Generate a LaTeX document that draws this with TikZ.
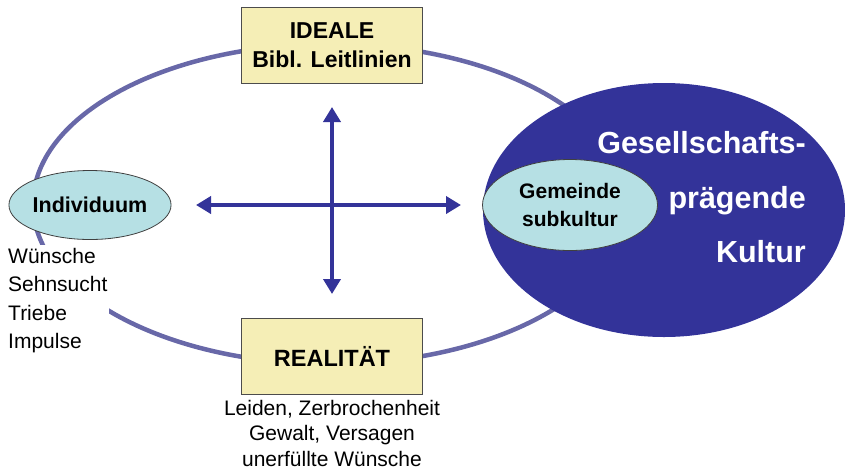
\documentclass[tikz,border=0pt]{standalone}
\usepackage{fontspec}
\setmainfont{Liberation Sans}
\usetikzlibrary{shapes.geometric,arrows.meta}
\definecolor{ringcol}{RGB}{104,104,168}
\definecolor{navy}{RGB}{51,51,153}
\definecolor{boxfill}{RGB}{245,238,182}
\definecolor{cyanfill}{RGB}{182,224,228}
\tikzset{
  ybox/.style={draw=black!70, line width=0.8pt, fill=boxfill, minimum width=181pt, minimum height=76pt, inner sep=0pt, align=center, font=\bfseries\fontsize{23}{29}\selectfont},
  cyell/.style={ellipse, draw=black!75, line width=0.8pt, fill=cyanfill, inner sep=0pt, align=center},
  plain/.style={font=\fontsize{21}{25}\selectfont, inner sep=0pt},
  wtext/.style={text=white, font=\bfseries\fontsize{30.5}{34}\selectfont, inner sep=0pt, anchor=east},
  dbl/.style={navy, line width=4pt, {Triangle[length=15pt,width=17pt]}-{Triangle[length=15pt,width=17pt]}}
}
\begin{document}
\begin{tikzpicture}[x=1pt,y=-1pt]
\useasboundingbox (0,0) rectangle (845,475);
% ring
\draw[ringcol, line width=4.5pt] (330,204) ellipse [x radius=297, y radius=160];
% boxes
\node[ybox] (ideal) at (332,45) {IDEALE\\Bibl. Leitlinien};
\node[ybox, font=\bfseries\fontsize{23.5}{29}\selectfont] (real) at (332,356) {REALITÄT};
\node[plain, align=center, font=\fontsize{21}{25.5}\selectfont, anchor=north] (realtxt) at (332,400) {Leiden, Zerbrochenheit\\Gewalt, Versagen\\unerfüllte Wünsche};
% individuum
\node[cyell, minimum width=153pt, minimum height=69pt, font=\bfseries\fontsize{21.5}{25}\selectfont] (indiv) at (90,205) {Individuum};
\node[plain, align=left, fill=white, anchor=north west, inner xsep=2pt, inner ysep=3pt, font=\fontsize{21}{28.5}\selectfont] (wishes) at (6,245) {Wünsche\\Sehnsucht\\Triebe\\Impulse};
% big culture ellipse
\node[ellipse, fill=navy, minimum width=362pt, minimum height=254pt, inner sep=0pt] (kultur) at (664,210) {};
\node[wtext] (k1) at (806,143) {Gesellschafts-};
\node[wtext] (k2) at (806,201) {prägende};
\node[wtext] (k3) at (806,252) {Kultur};
\node[cyell, minimum width=175pt, minimum height=91pt, font=\bfseries\fontsize{21}{28}\selectfont] (gem) at (570,205) {Gemeinde\\subkultur};
% arrows
\coordinate (up) at (332,107);
\coordinate (down) at (332,294);
\coordinate (left) at (196,205);
\coordinate (right) at (461,205);
\draw[dbl] (left) -- (right);
\draw[dbl] (up) -- (down);
\end{tikzpicture}
\end{document}
